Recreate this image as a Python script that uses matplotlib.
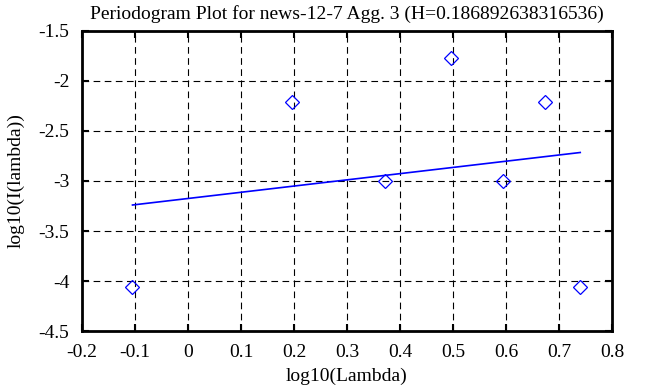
import matplotlib.pyplot as plt
import numpy as np

# periodogram points (log10 of frequency, log10 of periodogram)
log_lambda = [-0.1047, 0.1963, 0.3724, 0.4971, 0.5940, 0.6732, 0.7401]
log_I = [-4.06, -2.21, -3.00, -1.77, -3.00, -2.21, -4.06]

# fitted line end points
fit_x = [-0.1047, 0.7401]
fit_y = [-3.24, -2.715]

title = 'Periodogram Plot for news-12-7 Agg. 3 (H=0.186892638316536)'

plt.rcParams['font.family'] = ['Liberation Serif', 'DejaVu Serif']

fig = plt.figure(figsize=(6.47, 3.87), dpi=100)
ax = fig.add_axes([0.1267, 0.1447, 0.8192, 0.7752])

ax.plot(log_lambda, log_I, linestyle='none', marker='D', markersize=7.5,
        markerfacecolor='none', markeredgecolor='blue', markeredgewidth=0.9)
ax.plot(fit_x, fit_y, color='blue', linewidth=1.2)

ax.set_xlim(-0.2, 0.8)
ax.set_ylim(-4.5, -1.5)
ax.set_xticks(np.arange(-0.2, 0.81, 0.1))
ax.set_yticks(np.arange(-4.5, -1.49, 0.5))
ax.set_xticklabels(['-0.2', '-0.1', '0', '0.1', '0.2', '0.3', '0.4', '0.5', '0.6', '0.7', '0.8'])
ax.set_yticklabels(['-4.5', '-4', '-3.5', '-3', '-2.5', '-2', '-1.5'])

ax.grid(True, color='black', linestyle=(0, (6, 4)), linewidth=0.8)
ax.tick_params(direction='in', length=5, width=1.5, top=True, right=True,
               labelsize=14)
ax.tick_params(axis='x', pad=9)
ax.tick_params(axis='y', pad=9)
for s in ax.spines.values():
    s.set_linewidth(2)

ax.set_xlabel('log10(Lambda)', fontsize=14, labelpad=5)
ax.set_ylabel('log10(I(lambda))', fontsize=14, labelpad=10)
ax.set_title(title, fontsize=14, pad=9)

fig.savefig('out.png', dpi=100)
